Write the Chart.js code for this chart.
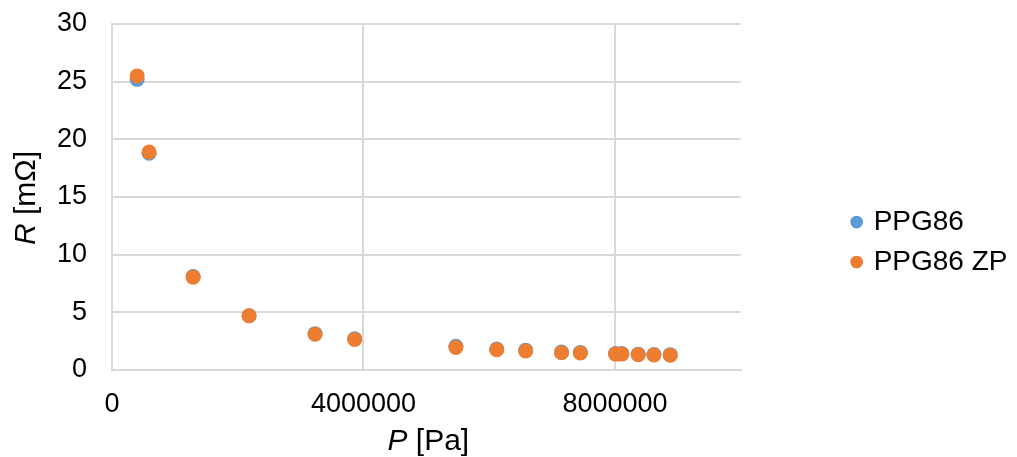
<!DOCTYPE html>
<html>
<head>
<meta charset="utf-8">
<script src="https://cdn.jsdelivr.net/npm/chart.js@4"></script>
<style>
  body { margin: 0; background: #fff; }
  #wrap { width: 1017px; height: 457px; }
</style>
</head>
<body>
<div id="wrap"><canvas id="chart"></canvas></div>
<script>
// pressure P [Pa]
const pressure = [400000, 590000, 1290000, 2180000, 3230000, 3860000, 5470000, 6120000,
                  6580000, 7150000, 7450000, 8010000, 8110000, 8370000, 8620000, 8880000];
// resistance R [mOhm]
const ppg86   = [25.2, 18.8, 8.1, 4.7, 3.15, 2.7, 2.05, 1.82, 1.72, 1.55, 1.52, 1.42, 1.42, 1.37, 1.35, 1.33];
const ppg86zp = [25.5, 18.9, 8.05, 4.7, 3.1, 2.65, 1.95, 1.75, 1.65, 1.5, 1.48, 1.38, 1.38, 1.33, 1.3, 1.28];
const seriesNames = ["PPG86", "PPG86 ZP"];
const xTicks = [0, 4000000, 8000000];
const yTicks = [0, 5, 10, 15, 20, 25, 30];
const xTitle = [{ text: "P", italic: true }, { text: " [Pa]" }];
const yTitle = [{ text: "R", italic: true }, { text: " [mΩ]" }];

const family = "'Liberation Sans', Arial, sans-serif";
const gridColor = "#d9d9d9";

function drawParts(ctx, parts, size, cx, cy) {
  const fonts = parts.map(p => (p.italic ? "italic " : "") + size + "px " + family);
  const widths = parts.map((p, i) => { ctx.font = fonts[i]; return ctx.measureText(p.text).width; });
  let x = cx - widths.reduce((a, b) => a + b, 0) / 2;
  parts.forEach((p, i) => {
    ctx.font = fonts[i];
    ctx.fillText(p.text, x, cy);
    x += widths[i];
  });
}

// axis titles with an italic symbol
const axisTitles = {
  id: "axisTitles",
  afterDraw(chart) {
    const { ctx, chartArea } = chart;
    ctx.save();
    ctx.fillStyle = "#000";
    ctx.textAlign = "left";
    ctx.textBaseline = "middle";
    drawParts(ctx, xTitle, 30, (chartArea.left + chartArea.right) / 2 + 2, 442);
    ctx.translate(27, (chartArea.top + chartArea.bottom) / 2 + 1);
    ctx.rotate(-Math.PI / 2);
    drawParts(ctx, yTitle, 30, 0, 0);
    ctx.restore();
  }
};

Chart.defaults.font.family = family;
Chart.defaults.color = "#000";

new Chart(document.getElementById("chart"), {
  type: "scatter",
  data: {
    datasets: [
      {
        label: seriesNames[0],
        data: pressure.map((p, i) => ({ x: p, y: ppg86[i] })),
        backgroundColor: "#5b9bd5",
        borderColor: "#5b9bd5",
        borderWidth: 0,
        pointRadius: 7.5,
        order: 1,
      },
      {
        label: seriesNames[1],
        data: pressure.map((p, i) => ({ x: p, y: ppg86zp[i] })),
        backgroundColor: "#ed7d31",
        borderColor: "#ed7d31",
        borderWidth: 0,
        pointRadius: 7.5,
        order: 0,
      },
    ],
  },
  options: {
    responsive: true,
    maintainAspectRatio: false,
    animation: false,
    layout: { padding: { top: 24, right: 7, bottom: 0, left: 0 } },
    plugins: {
      tooltip: { enabled: false },
      legend: {
        position: "right",
        title: { display: true, text: "", font: { size: 1 }, padding: 1 },
        labels: {
          usePointStyle: true,
          boxWidth: 6,
          boxHeight: 9,
          padding: 12,
          font: { size: 28 },
          color: "#000",
          sort: (a, b) => a.datasetIndex - b.datasetIndex,
        },
      },
    },
    scales: {
      x: {
        type: "linear",
        min: 0,
        max: 10000000,
        afterBuildTicks: s => { s.ticks = xTicks.map(v => ({ value: v })); },
        afterFit: s => { s.height = 87; },
        ticks: { padding: 18, font: { size: 27 }, callback: v => String(v) },
        grid: { color: gridColor, lineWidth: 2, drawTicks: false },
        border: { color: gridColor, width: 2 },
      },
      y: {
        min: 0,
        max: 30,
        afterBuildTicks: s => { s.ticks = yTicks.map(v => ({ value: v })); },
        afterFit: s => { s.width = 112; s.paddingTop = 0; s.paddingBottom = 0; },
        ticks: { padding: 25, font: { size: 27 } },
        grid: { color: gridColor, lineWidth: 2, drawTicks: false },
        border: { color: gridColor, width: 2 },
      },
      gap: {
        type: "linear",
        position: "right",
        grid: { display: false },
        border: { display: false },
        ticks: { display: false },
        afterFit: s => { s.width = 101; },
      },
    },
  },
  plugins: [axisTitles],
});
</script>
</body>
</html>
